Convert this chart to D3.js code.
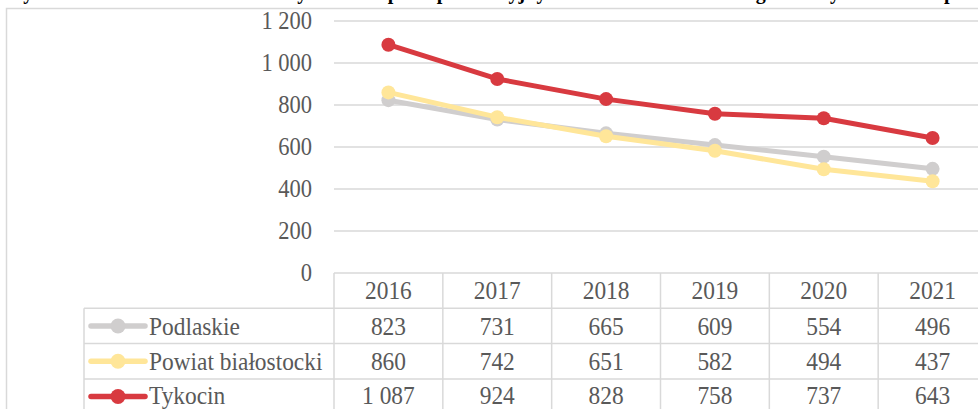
<!DOCTYPE html>
<html>
<head>
<meta charset="utf-8">
<script src="https://cdn.jsdelivr.net/npm/d3@7"></script>
<style>
body { margin: 0; background: #fff; }
</style>
</head>
<body>
<svg width="978" height="409"></svg>
<script>
// data
var years = ['2016', '2017', '2018', '2019', '2020', '2021'];
var podlaskie = [823, 731, 665, 609, 554, 496];
var powiat = [860, 742, 651, 582, 494, 437];
var tykocin = [1087, 924, 828, 758, 737, 643];
var seriesNames = ['Podlaskie', 'Powiat białostocki', 'Tykocin'];
var seriesColors = ['#d0cece', '#ffe699', '#d83a40'];
var yTicks = [0, 200, 400, 600, 800, 1000, 1200];

var allSeries = [podlaskie, powiat, tykocin];
var svg = d3.select('svg').attr('font-family', "'Liberation Serif', 'DejaVu Serif', serif");
var fmt = function(v) { return d3.format(',')(v).replace(/,/g, ' '); };
var sq = 0.9; // text in the picture is a bit narrow

function place(px, py) {
	return 'translate(' + px + ',' + py + ') scale(' + sq + ',1)';
}

// cut off title above the frame
svg.append('text')
	.attr('x', 4)
	.attr('y', -1)
	.style('font-weight', 'bold')
	.style('font-size', '20px')
	.style('fill', '#000')
	.text('Wykres 7. Liczba dzieci i młodzieży w wieku przedprodukcyjnym w latach 2016-2021 w gminie Tykocin na tle powiatu i województwa');

// outer frame
svg.append('rect')
	.attr('x', 6.5).attr('y', 8.5)
	.attr('width', 1000).attr('height', 500)
	.style('fill', 'none')
	.style('stroke', '#d9d9d9')
	.style('stroke-width', '1.5px');

var x = d3.scaleBand().domain(years).range([334, 987]);
var y = d3.scaleLinear().domain([0, 1200]).range([273, 21]);

// gridlines
svg.append('g').selectAll('line').data(yTicks.slice(1)).join('line')
	.attr('x1', 334).attr('x2', 978)
	.attr('y1', function(d) { return y(d); })
	.attr('y2', function(d) { return y(d); })
	.style('stroke', '#d9d9d9')
	.style('stroke-width', '1.5px');

// y labels
svg.append('g').selectAll('text').data(yTicks).join('text')
	.attr('transform', function(d) { return place(312, y(d) + 8); })
	.attr('text-anchor', 'end')
	.style('font-size', '25px')
	.style('fill', '#595959')
	.text(function(d) { return fmt(d); });

// data table
var rowTop = 273, rowH = 35.3;
var legLeft = 84;
var baseOff = [26, 26.5, 26, 25.5];
var tbl = svg.append('g').style('stroke', '#d9d9d9').style('stroke-width', '1.5px');
tbl.append('line').attr('x1', 334).attr('x2', 978).attr('y1', rowTop).attr('y2', rowTop);
for (var r = 1; r <= 3; r++) {
	tbl.append('line').attr('x1', legLeft).attr('x2', 978)
		.attr('y1', rowTop + r * rowH).attr('y2', rowTop + r * rowH);
}
tbl.append('line').attr('x1', legLeft).attr('x2', legLeft).attr('y1', rowTop + rowH).attr('y2', 420);
tbl.selectAll('line.col').data(years).join('line')
	.attr('class', 'col')
	.attr('x1', function(d) { return x(d); })
	.attr('x2', function(d) { return x(d); })
	.attr('y1', rowTop).attr('y2', 420);

svg.append('g').selectAll('text').data(years).join('text')
	.attr('transform', function(d) { return place(x(d) + x.bandwidth() / 2, rowTop + baseOff[0]); })
	.attr('text-anchor', 'middle')
	.style('font-size', '26px')
	.style('fill', '#595959')
	.text(function(d) { return d; });

allSeries.forEach(function(vals, i) {
	var ty = rowTop + (i + 1) * rowH + baseOff[i + 1];
	var g = svg.append('g');
	g.selectAll('text').data(vals).join('text')
		.attr('transform', function(d, j) { return place(x(years[j]) + x.bandwidth() / 2, ty); })
		.attr('text-anchor', 'middle')
		.style('font-size', '26px')
		.style('fill', '#595959')
		.text(function(d) { return fmt(d); });
	var ky = rowTop + (i + 1) * rowH + rowH / 2;
	g.append('line').attr('x1', 91).attr('x2', 145).attr('y1', ky).attr('y2', ky)
		.style('stroke', seriesColors[i]).style('stroke-width', '5.5px').style('stroke-linecap', 'round');
	g.append('circle').attr('cx', 118).attr('cy', ky).attr('r', 7.5).style('fill', seriesColors[i]);
	g.append('text').attr('transform', place(149, ty))
		.style('font-size', '26px')
		.style('fill', '#595959')
		.text(seriesNames[i]);
});

// lines
var line = d3.line()
	.x(function(d, j) { return x(years[j]) + x.bandwidth() / 2; })
	.y(function(d) { return y(d); });

allSeries.forEach(function(vals, i) {
	var g = svg.append('g');
	g.append('path')
		.attr('d', line(vals))
		.style('fill', 'none')
		.style('stroke', seriesColors[i])
		.style('stroke-width', '5px')
		.style('stroke-linejoin', 'round');
	g.selectAll('circle').data(vals).join('circle')
		.attr('cx', function(d, j) { return x(years[j]) + x.bandwidth() / 2; })
		.attr('cy', function(d) { return y(d); })
		.attr('r', 7)
		.style('fill', seriesColors[i]);
});
</script>
</body>
</html>
